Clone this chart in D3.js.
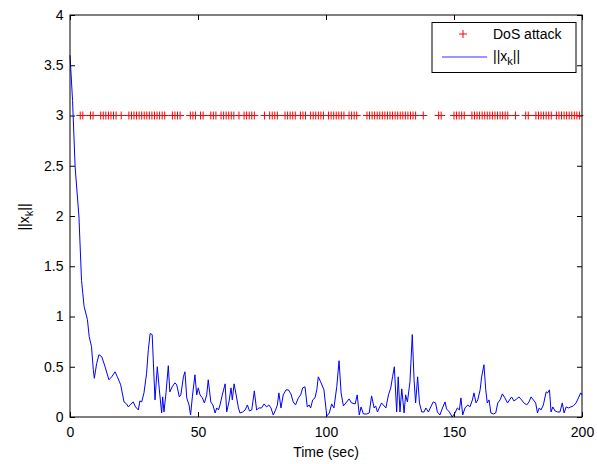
<!DOCTYPE html>
<html><head><meta charset="utf-8">
<script src="https://cdn.jsdelivr.net/npm/d3@7"></script>
<style>body{margin:0;background:#fff}svg{display:block}text{font-family:"Liberation Sans",Arial,sans-serif}</style>
</head><body><svg id="c" width="597" height="464"></svg>
<script>
const times = [0,1,2,3.5,4.5,5.5,6.8,7.5,8.4,9.1,9.5,10.4,11.3,12.4,13.7,15.2,16.3,17.6,18.5,19.8,21.1,22.1,22.8,23.4,24.7,25.6,26.7,27.3,28,28.9,29.9,30.6,31.3,32.1,33.2,34.1,34.9,35.8,36.2,36.7,37.5,38.4,39,39.9,41,41.7,42.7,43.3,44.3,44.9,45.6,46.5,47.1,47.8,48.8,49.5,50.1,50.8,51.7,52.5,53.4,54,55,55.8,56.7,57.3,58,58.6,59.5,60.6,61.2,62.1,62.9,63.4,64.1,64.9,65.8,66.4,67.5,68.4,69.3,70.1,71,72,72.9,73.8,74.8,75.8,76.8,77.7,78.5,79.4,80.3,81,81.6,82.4,83.3,84.4,85.3,86.3,87.2,88.1,89.2,90.1,90.9,91.8,92.7,93.4,94,94.8,95.7,96.4,97,97.9,99.2,100.3,101.3,102.2,103.1,104.2,105.1,105.9,106.8,107.8,109,110,111.4,112.2,113,113.7,114.6,115.9,116.9,117.8,118.8,119.4,120.1,120.8,121.7,122.7,123.4,124.4,125.3,126,126.7,127.6,128.2,128.9,129.6,130.5,131.1,131.8,132.8,133.7,134.4,135,135.8,136.5,137.4,138.3,139,140,140.9,141.9,142.8,143.5,144.5,145.5,146.5,147.1,148.2,149.3,150.4,151.3,152.1,152.7,153.4,154.3,155.4,156.2,157.2,157.8,158.6,159.3,160.2,160.8,161.7,162.4,163,163.7,164.4,165.4,166.3,167.1,168,168.9,169.9,170.9,171.7,172.5,173.4,174.5,175.4,176.4,177.3,178.4,179.3,180.1,181,181.9,182.6,183.3,184,184.9,186,186.6,187.3,187.9,188.6,189.5,190.4,191.4,192.3,193,193.8,194.7,195.6,196.6,197.7,198.6,199.5,200];
const norms = [3.6,3.15,2.49,1.99,1.36,1.1,0.97,0.8,0.7,0.47,0.385,0.53,0.62,0.6,0.5,0.37,0.4,0.45,0.4,0.32,0.15,0.13,0.1,0.12,0.15,0.1,0.07,0.16,0.15,0.24,0.43,0.67,0.83,0.82,0.17,0.5,0.27,0.04,0.2,0.05,0.24,0.51,0.25,0.3,0.34,0.32,0.2,0.22,0.4,0.45,0.19,0.12,0.02,0.2,0.42,0.22,0.29,0.22,0.19,0.14,0.22,0.37,0.15,0.12,0.04,0.09,0.07,0.12,0.22,0.33,0.05,0.15,0.29,0.17,0.33,0.22,0.09,0.04,0.05,0.07,0.12,0.06,0.07,0.26,0.07,0.09,0.09,0.13,0.1,0.12,0.09,0.02,0.07,0.12,0.24,0.09,0.22,0.27,0.27,0.23,0.15,0.12,0.19,0.22,0.29,0.3,0.1,0.12,0.09,0.17,0.19,0.27,0.4,0.35,0.27,0.01,0.04,0.13,0.09,0.3,0.56,0.24,0.11,0.14,0.18,0.14,0.13,0.22,0.02,0.1,0.03,0.03,0.04,0.21,0.09,0.11,0.05,0.09,0.14,0.11,0.09,0.22,0.29,0.4,0.5,0.05,0.4,0.05,0.28,0.04,0.22,0.15,0.35,0.82,0.37,0.14,0.4,0.14,0.05,0.05,0.09,0.05,0.1,0.15,0.14,0.05,0.02,0.09,0.15,0.08,0.05,0.0,0.04,0.09,0.07,0.19,0.02,0.09,0.12,0.1,0.17,0.24,0.14,0.17,0.27,0.4,0.52,0.27,0.14,0.17,0.04,0.03,0.04,0.14,0.17,0.23,0.19,0.14,0.17,0.2,0.16,0.18,0.2,0.17,0.14,0.12,0.15,0.2,0.17,0.14,0.04,0.09,0.07,0.12,0.25,0.24,0.27,0.05,0.1,0.06,0.05,0.05,0.14,0.04,0.1,0.09,0.1,0.11,0.14,0.19,0.24,0.22];
const attackTimes = [4,5,8,9,12,13,14,15,16,17,18,20,23,24,25,26,27,28,29,30,31,32,33,34,35,36,37,40,41,42,43,47,48,
49,51,52,55,56,57,59,60,61,62,63,64,66,68,69,70,71,72,76,78,79,80,81,84,85,86,87,88,90,91,92,94,95,96,97,98,99,
101,102,103,104,105,106,107,109,110,111,112,116,117,118,119,120,121,122,123,124,125,126,127,128,129,130,131,132,133,134,135,138,144,145,150,
151,152,153,154,157,158,159,160,161,162,163,164,165,166,167,168,169,170,171,174,178,179,182,183,184,185,186,187,188,190,191,192,193,194,195,196,197,198,199];
const attackLevel = 3;
const xTicks = [0,50,100,150,200];
const yTicks = [0,0.5,1,1.5,2,2.5,3,3.5,4];
const xLabel = "Time (sec)";
const legendLabels = ["DoS attack", "||x", "k", "||"];

const svg = d3.select("#c");
const L=70, R=582, T=15, B=417;
const x = d3.scaleLinear().domain([0,200]).range([L,R]);
const y = d3.scaleLinear().domain([0,4]).range([B,T]);
const fmt = d => String(d);

const ax = svg.append("g").attr("transform",`translate(0,${B})`)
  .call(d3.axisBottom(x).tickValues(xTicks).tickFormat(fmt).tickSizeInner(-5).tickSizeOuter(0).tickPadding(10));
const ay = svg.append("g").attr("transform",`translate(${L},0)`)
  .call(d3.axisLeft(y).tickValues(yTicks).tickFormat(fmt).tickSizeInner(-5).tickSizeOuter(0).tickPadding(6.5));
const at = svg.append("g").attr("transform",`translate(0,${T})`)
  .call(d3.axisTop(x).tickValues(xTicks).tickFormat("").tickSizeInner(-5).tickSizeOuter(0));
const ar = svg.append("g").attr("transform",`translate(${R},0)`)
  .call(d3.axisRight(y).tickValues(yTicks).tickFormat("").tickSizeInner(-5).tickSizeOuter(0));
[ax,ay,at,ar].forEach(g=>{
  g.select(".domain").remove();
  g.selectAll("text").attr("font-size",14).attr("fill","#000").attr("font-family","Liberation Sans, Arial, sans-serif");
  g.selectAll("line").attr("stroke","#000");
});

// line
const line = d3.line().x((d,i)=>x(times[i])).y(d=>y(d));
svg.append("path").datum(norms).attr("d",line).attr("fill","none").attr("stroke","#0000ff").attr("stroke-width",1);

// markers
const s = 4;
svg.append("g").selectAll("path").data(attackTimes).join("path")
  .attr("d", d=>`M${x(d)-s},${y(attackLevel)}H${x(d)+s}M${x(d)},${y(attackLevel)-s}V${y(attackLevel)+s}`)
  .attr("stroke","#ff0000").attr("stroke-width",1).attr("fill","none");

// frame
svg.append("rect").attr("x",L).attr("y",T).attr("width",R-L).attr("height",B-T)
  .attr("fill","none").attr("stroke","#000").attr("stroke-width",1);

// labels
svg.append("text").attr("x",(L+R)/2).attr("y",457).attr("text-anchor","middle").attr("font-size",14).text(xLabel);
const yl = svg.append("text").attr("transform","translate(29,217) rotate(-90)").attr("text-anchor","middle").attr("font-size",14);
yl.append("tspan").text("||x");
yl.append("tspan").attr("font-size",11).attr("dy",4).text("k");
yl.append("tspan").attr("dy",-4).text("||");

// legend
const lg = svg.append("g");
lg.append("rect").attr("x",432).attr("y",22.5).attr("width",144).attr("height",50).attr("fill","#fff").attr("stroke","#000");
lg.append("path").attr("d",`M${463-s},34H${463+s}M463,${34-s}V${34+s}`).attr("stroke","#ff0000").attr("fill","none");
lg.append("text").attr("x",493).attr("y",39).attr("font-size",14).text(legendLabels[0]);
lg.append("path").attr("d","M442,57H487").attr("stroke","#3333ff").attr("stroke-width",1.2).attr("fill","none");
const lt = lg.append("text").attr("x",493).attr("y",61).attr("font-size",14);
lt.append("tspan").text(legendLabels[1]);
lt.append("tspan").attr("font-size",11).attr("dy",4).text(legendLabels[2]);
lt.append("tspan").attr("dy",-4).text(legendLabels[3]);
</script></body></html>
